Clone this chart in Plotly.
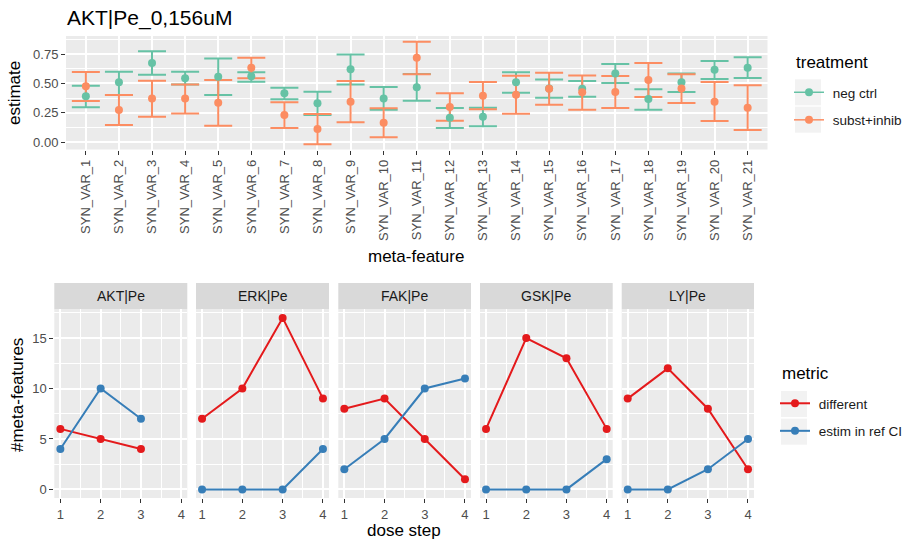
import plotly.graph_objects as go

# ---- top panel: per-feature estimates with confidence intervals ----
features = ["SYN_VAR_%d" % i for i in range(1, 22)]

neg_est = [0.39, 0.509, 0.673, 0.543, 0.557, 0.56, 0.415, 0.33, 0.62, 0.372, 0.466,
           0.207, 0.216, 0.509, 0.456, 0.454, 0.585, 0.367, 0.509, 0.617, 0.634]
neg_lo = [0.296, 0.40, 0.574, 0.49, 0.40, 0.514, 0.364, 0.23, 0.49, 0.275, 0.352,
          0.12, 0.134, 0.42, 0.378, 0.386, 0.503, 0.276, 0.426, 0.537, 0.546]
neg_hi = [0.48, 0.60, 0.773, 0.60, 0.713, 0.594, 0.463, 0.429, 0.747, 0.469, 0.58,
          0.29, 0.292, 0.594, 0.534, 0.52, 0.665, 0.449, 0.585, 0.69, 0.722]

sub_est = [0.475, 0.273, 0.37, 0.37, 0.335, 0.633, 0.23, 0.11, 0.344, 0.165, 0.719,
           0.298, 0.395, 0.403, 0.454, 0.424, 0.426, 0.529, 0.457, 0.344, 0.293]
sub_lo = [0.35, 0.145, 0.216, 0.242, 0.139, 0.543, 0.119, -0.02, 0.168, 0.04, 0.577,
          0.182, 0.279, 0.241, 0.318, 0.276, 0.29, 0.384, 0.332, 0.179, 0.102]
sub_hi = [0.597, 0.40, 0.523, 0.49, 0.528, 0.719, 0.338, 0.239, 0.52, 0.287, 0.855,
          0.415, 0.511, 0.565, 0.591, 0.568, 0.563, 0.673, 0.577, 0.511, 0.483]

# ---- bottom panels: counts per dose step ----
facets = ["AKT|Pe", "ERK|Pe", "FAK|Pe", "GSK|Pe", "LY|Pe"]
dose_steps = [1, 2, 3, 4]
akt_different = [6, 5, 4]
akt_in_ci = [4, 10, 7]
erk_different = [7, 10, 17, 9]
erk_in_ci = [0, 0, 0, 4]
fak_different = [8, 9, 5, 1]
fak_in_ci = [2, 5, 10, 11]
gsk_different = [6, 15, 13, 6]
gsk_in_ci = [0, 0, 0, 3]
ly_different = [9, 12, 8, 2]
ly_in_ci = [0, 0, 2, 5]

different_by_facet = [akt_different, erk_different, fak_different, gsk_different, ly_different]
in_ci_by_facet = [akt_in_ci, erk_in_ci, fak_in_ci, gsk_in_ci, ly_in_ci]

GREEN, ORANGE = "#66C2A5", "#FC8D62"
RED, BLUE = "#E41A1C", "#377EB8"
FONT = "Liberation Sans"
W, H = 904, 545
PAD = "\u00a0"  # small gap between legend key and label


def px_x(p):
    return p / W


def px_y(p):
    return 1 - p / H


fig = go.Figure()

# error bars first, then the points on top
for est, lo, hi, col in [(neg_est, neg_lo, neg_hi, GREEN), (sub_est, sub_lo, sub_hi, ORANGE)]:
    fig.add_trace(go.Scatter(
        x=features, y=est, mode="markers",
        marker=dict(size=1, color="rgba(0,0,0,0)"),
        error_y=dict(type="data", symmetric=False,
                     array=[h - e for h, e in zip(hi, est)],
                     arrayminus=[e - l for e, l in zip(est, lo)],
                     color=col, thickness=2, width=14),
        showlegend=False, hoverinfo="skip", xaxis="x", yaxis="y"))
for est, col in [(neg_est, GREEN), (sub_est, ORANGE)]:
    fig.add_trace(go.Scatter(
        x=features, y=est, mode="markers",
        marker=dict(size=8, color=col),
        showlegend=False, xaxis="x", yaxis="y"))

# legend entries for treatment
for name, col in [("neg ctrl", GREEN), ("subst+inhib", ORANGE)]:
    fig.add_trace(go.Scatter(
        x=[None], y=[None], mode="lines+markers", name=PAD + name,
        line=dict(color=col, width=1.5), marker=dict(size=8, color=col),
        legend="legend", legendgroup=name, xaxis="x", yaxis="y"))

# faceted line charts
panel_px = [(54.3, 187.3), (196, 329), (338.3, 471), (480, 612.7), (621.7, 754)]
for i, (facet, diff, inci) in enumerate(zip(facets, different_by_facet, in_ci_by_facet)):
    ax = i + 2
    for vals, col, name in [(diff, RED, "different"), (inci, BLUE, "estim in ref CI")]:
        fig.add_trace(go.Scatter(
            x=dose_steps[:len(vals)], y=vals, mode="lines+markers", name=PAD + name,
            line=dict(color=col, width=2), marker=dict(size=8, color=col),
            showlegend=(i == 0), legend="legend2", legendgroup=name,
            xaxis="x%d" % ax, yaxis="y%d" % ax))

grid = dict(showgrid=True, gridcolor="white", gridwidth=1.6, zeroline=False,
            ticks="outside", ticklen=4, tickwidth=1, tickcolor="#333333",
            showline=False, tickfont=dict(family=FONT, size=13, color="#4D4D4D"))

layout = dict(
    width=W, height=H, margin=dict(l=0, r=0, t=0, b=0, autoexpand=False),
    paper_bgcolor="white", plot_bgcolor="#EBEBEB",
    font=dict(family=FONT, color="#1A1A1A"),
    xaxis=dict(domain=[px_x(66), px_x(767.5)], range=[-0.6, 20.6], tickangle=-90,
               anchor="y", **grid),
    yaxis=dict(domain=[px_y(149.5), px_y(36)], range=[-0.064, 0.904],
               tickvals=[0, 0.25, 0.5, 0.75], ticktext=["0.00", "0.25", "0.50", "0.75"],
               minor=dict(tickvals=[0.125, 0.375, 0.625, 0.875], showgrid=True,
                          gridcolor="white", gridwidth=0.8, ticks=""),
               anchor="x", **grid),
)

for i, (x0, x1) in enumerate(panel_px):
    ax = i + 2
    layout["xaxis%d" % ax] = dict(
        domain=[px_x(x0), px_x(x1)], range=[0.85, 4.15], tickvals=[1, 2, 3, 4],
        minor=dict(tickvals=[1.5, 2.5, 3.5], showgrid=True, gridcolor="white",
                   gridwidth=0.8, ticks=""),
        anchor="y%d" % ax, **grid)
    layout["yaxis%d" % ax] = dict(
        domain=[px_y(498), px_y(309.3)], range=[-0.85, 17.85], tickvals=[0, 5, 10, 15],
        minor=dict(tickvals=[2.5, 7.5, 12.5, 17.5], showgrid=True, gridcolor="white",
                   gridwidth=0.8, ticks=""),
        anchor="x%d" % ax, **grid)
    if i > 0:
        layout["yaxis%d" % ax]["matches"] = "y2"
        layout["yaxis%d" % ax]["showticklabels"] = False
        layout["yaxis%d" % ax]["ticks"] = ""

legend_common = dict(
    xanchor="left", yanchor="top", bgcolor="rgba(0,0,0,0)",
    font=dict(family=FONT, size=13.5, color="#1A1A1A"),
    tracegroupgap=7, valign="middle",
)
layout["legend"] = dict(x=px_x(789), y=px_y(77), **legend_common)
layout["legend2"] = dict(x=px_x(775), y=px_y(388), **legend_common)

shapes = []
annotations = []
# strip headers for the facets
for facet, (x0, x1) in zip(facets, panel_px):
    shapes.append(dict(type="rect", xref="paper", yref="paper",
                       x0=px_x(x0), x1=px_x(x1), y0=px_y(309.3), y1=px_y(283),
                       fillcolor="#D9D9D9", line=dict(width=0), layer="below"))
    annotations.append(dict(text=facet, xref="paper", yref="paper",
                            x=px_x((x0 + x1) / 2), y=px_y(296), showarrow=False,
                            xanchor="center", yanchor="middle",
                            font=dict(family=FONT, size=14, color="#1A1A1A")))

# grey legend key backgrounds
for top in (79.3, 106.7, 391, 418.7):
    left = 795 if top < 200 else 781
    shapes.append(dict(type="rect", xref="paper", yref="paper",
                       x0=px_x(left), x1=px_x(left + 26), y0=px_y(top + 26), y1=px_y(top),
                       fillcolor="#F2F2F2", line=dict(width=0), layer="below"))

annotations += [
    dict(text="AKT|Pe_0,156uM", xref="paper", yref="paper", x=px_x(65), y=px_y(18),
         xanchor="left", yanchor="middle", showarrow=False,
         font=dict(family=FONT, size=21, color="black")),
    dict(text="estimate", xref="paper", yref="paper", x=px_x(15), y=px_y(93),
         xanchor="center", yanchor="middle", textangle=-90, showarrow=False,
         font=dict(family=FONT, size=17, color="black")),
    dict(text="meta-feature", xref="paper", yref="paper", x=px_x(416), y=px_y(256),
         xanchor="center", yanchor="middle", showarrow=False,
         font=dict(family=FONT, size=17, color="black")),
    dict(text="#meta-features", xref="paper", yref="paper", x=px_x(17), y=px_y(395),
         xanchor="center", yanchor="middle", textangle=-90, showarrow=False,
         font=dict(family=FONT, size=17, color="black")),
    dict(text="dose step", xref="paper", yref="paper", x=px_x(404), y=px_y(530),
         xanchor="center", yanchor="middle", showarrow=False,
         font=dict(family=FONT, size=17, color="black")),
    dict(text="treatment", xref="paper", yref="paper", x=px_x(794), y=px_y(62),
         xanchor="left", yanchor="middle", showarrow=False,
         font=dict(family=FONT, size=17, color="black")),
    dict(text="metric", xref="paper", yref="paper", x=px_x(780), y=px_y(373),
         xanchor="left", yanchor="middle", showarrow=False,
         font=dict(family=FONT, size=17, color="black")),
]
layout["shapes"] = shapes
layout["annotations"] = annotations

fig.update_layout(**layout)
fig.write_html("out.html")
